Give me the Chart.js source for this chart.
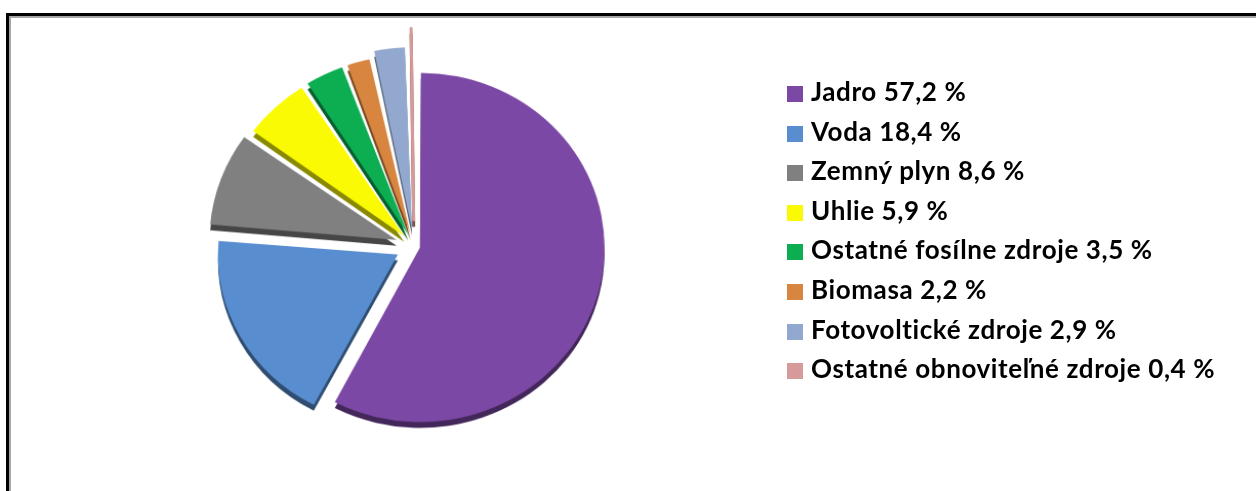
<!DOCTYPE html>
<html lang="sk">
<head>
    <meta charset="UTF-8">
    <title>Podiel zdrojov na výrobe elektriny</title>
    <style>
        html, body {
            margin: 0;
            padding: 0;
            background: #fff;
            width: 1256px;
            height: 491px;
            overflow: hidden;
        }

        .frame {
            position: absolute;
            left: 6px;
            top: 13px;
            width: 1300px;
            height: 520px;
            border-top: 3px solid #000;
            border-left: 3px solid #000;
            box-shadow: inset 2px 2px 0 #a6a6a6;
        }

        /* the original pie is seen slightly from above, so squash it a little */
        .pie-box {
            position: absolute;
            left: 2px;
            top: 1px;
            width: 824px;
            height: 490px;
            transform-origin: 412px 245px;
            transform: scale(1.025, 0.97);
        }

        #legend {
            position: absolute;
            left: 787px;
            top: 72px;
            margin: 0;
            padding: 0;
            list-style: none;
            font-family: Lato, sans-serif;
            font-weight: 700;
            font-size: 26px;
            letter-spacing: 0.6px;
            color: #000;
        }

        #legend li {
            height: 39.6px;
            line-height: 39.6px;
            white-space: nowrap;
        }

        #legend .swatch {
            display: inline-block;
            width: 16px;
            height: 16px;
            margin-right: 8px;
            vertical-align: -1px;
        }
    </style>
</head>
<body>
    <div class="frame"></div>
    <div class="pie-box">
        <canvas id="pieChart" width="824" height="490"></canvas>
    </div>
    <ul id="legend"></ul>

    <script src="https://cdn.jsdelivr.net/npm/chart.js"></script>
    <script>
        // Data
        const sources = ['Jadro', 'Voda', 'Zemný plyn', 'Uhlie', 'Ostatné fosílne zdroje',
            'Biomasa', 'Fotovoltické zdroje', 'Ostatné obnoviteľné zdroje'];
        const shares = [57.2, 18.4, 8.6, 5.9, 3.5, 2.2, 2.9, 0.4];
        const shareLabels = ['57,2 %', '18,4 %', '8,6 %', '5,9 %', '3,5 %', '2,2 %', '2,9 %', '0,4 %'];

        const colors = ['#7c48a5', '#588dcf', '#808080', '#fafa05', '#0dae52', '#d8853f', '#93a8ce', '#d69a9a'];

        // fake 3D depth: darker copy of each slice drawn a bit lower
        const depthPlugin = {
            id: 'depth',
            beforeDatasetsDraw(chart) {
                const ctx = chart.ctx;
                ctx.save();
                ctx.translate(0, 6);
                ctx.filter = 'brightness(0.55)';
                chart.getDatasetMeta(0).data.forEach(arc => arc.draw(ctx));
                ctx.restore();
            }
        };

        const ctx = document.getElementById('pieChart').getContext('2d');

        const pieChart = new Chart(ctx, {
            type: 'pie',
            data: {
                labels: sources,
                datasets: [{
                    data: shares,
                    backgroundColor: colors,
                    // the 0,4 % wedge is too thin to survive the explode, give it a stroke
                    borderColor: colors,
                    borderWidth: [0, 0, 0, 0, 0, 0, 0, 3],
                    offset: [24, 72, 72, 56, 52, 50, 68, 103]
                }]
            },
            options: {
                responsive: false,
                animation: false,
                radius: 174,
                layout: { padding: 0 },
                plugins: {
                    legend: { display: false },
                    tooltip: { enabled: false }
                }
            },
            plugins: [depthPlugin]
        });

        // HTML legend built from the same arrays
        const legendEl = document.getElementById('legend');
        sources.forEach((name, i) => {
            const li = document.createElement('li');
            const sw = document.createElement('span');
            sw.className = 'swatch';
            sw.style.background = colors[i];
            li.appendChild(sw);
            li.appendChild(document.createTextNode(name + ' ' + shareLabels[i]));
            legendEl.appendChild(li);
        });
    </script>
</body>
</html>
